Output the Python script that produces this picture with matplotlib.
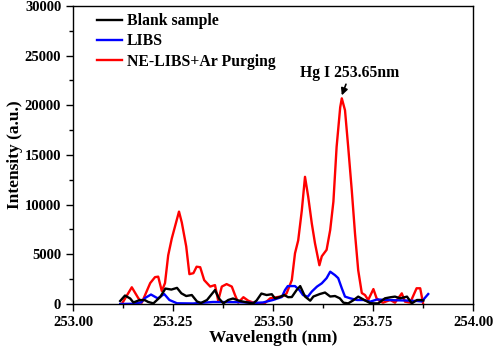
import matplotlib.pyplot as plt
from matplotlib.ticker import MultipleLocator

plt.rcParams['font.family'] = ['Liberation Serif', 'DejaVu Serif']
plt.rcParams['font.weight'] = 'bold'

# Blank sample
blank_x = [253.118, 253.130, 253.143, 253.151, 253.167, 253.180, 253.188, 253.201, 253.218,
           253.231, 253.246, 253.260, 253.271, 253.283, 253.297, 253.310, 253.320, 253.335,
           253.355, 253.365, 253.376, 253.388, 253.400, 253.417, 253.450, 253.459, 253.471,
           253.484, 253.497, 253.505, 253.517, 253.528, 253.538, 253.547, 253.559, 253.568,
           253.580, 253.593, 253.601, 253.617, 253.630, 253.643, 253.655, 253.667, 253.676,
           253.688, 253.700, 253.713, 253.726, 253.743, 253.755, 253.763, 253.780, 253.793,
           253.805, 253.818, 253.835, 253.847, 253.860, 253.868, 253.876]
blank_y = [300, 850, 550, 150, 400, 380, 200, 60, 700, 1550, 1450, 1620, 1070, 800, 900, 250,
           100, 400, 1400, 550, 60, 400, 550, 300, 50, 350, 1050, 900, 980, 560, 700, 900, 680,
           700, 1400, 1800, 750, 330, 750, 1000, 1150, 750, 800, 570, 130, 60, 350, 740, 450, 80,
           60, 60, 570, 670, 740, 570, 740, 60, 400, 400, 350]

# LIBS
libs_x = [253.118, 253.150, 253.170, 253.180, 253.195, 253.212, 253.228, 253.241, 253.260,
          253.300, 253.350, 253.415, 253.450, 253.475, 253.500, 253.522, 253.530, 253.537,
          253.555, 253.566, 253.575, 253.587, 253.597, 253.610, 253.622, 253.634, 253.643,
          253.655, 253.663, 253.672, 253.680, 253.693, 253.710, 253.726, 253.743, 253.760,
          253.800, 253.830, 253.860, 253.872, 253.888]
libs_y = [0, 20, 150, 600, 950, 560, 1000, 400, 70, 50, 200, 180, 100, 150, 400, 700, 1400,
          1800, 1800, 1400, 900, 730, 1250, 1750, 2080, 2600, 3250, 2900, 2600, 1580, 740, 570,
          400, 400, 230, 450, 380, 350, 300, 250, 1000]

# NE-LIBS+Ar Purging
ne_x = [253.122, 253.147, 253.163, 253.172, 253.193, 253.205, 253.213, 253.222, 253.230,
        253.238, 253.247, 253.255, 253.265, 253.272, 253.283, 253.291, 253.301, 253.309,
        253.318, 253.328, 253.343, 253.355, 253.363, 253.372, 253.384, 253.397, 253.405,
        253.413, 253.426, 253.438, 253.451, 253.468, 253.480, 253.493, 253.509, 253.526,
        253.534, 253.547, 253.555, 253.563, 253.572, 253.580, 253.588, 253.597, 253.605,
        253.616, 253.622, 253.634, 253.643, 253.651, 253.659, 253.668, 253.672, 253.680,
        253.688, 253.697, 253.705, 253.713, 253.722, 253.730, 253.738, 253.751, 253.759,
        253.768, 253.775, 253.793, 253.805, 253.822, 253.830, 253.843, 253.859, 253.868,
        253.875]
ne_y = [0, 1680, 600, 130, 2100, 2700, 2750, 1300, 2100, 4900, 6600, 7800, 9300, 8200, 5800,
        3000, 3100, 3750, 3700, 2400, 1750, 1900, 330, 1750, 2000, 1750, 900, 130, 680, 330,
        130, 0, 100, 570, 680, 800, 1070, 2400, 5100, 6400, 9400, 12800, 10800, 8100, 6100,
        3900, 4800, 5450, 7450, 10300, 15800, 19800, 20700, 19500, 15800, 11400, 7100, 3400,
        1100, 900, 400, 1500, 570, 250, 130, 400, 130, 1070, 230, 130, 1580, 1580, 100]

fig = plt.figure(figsize=(5, 3.51), dpi=100, facecolor='white')
ax = fig.add_axes([0.146, 0.134, 0.8, 0.849])

ax.plot(blank_x, blank_y, color='black', linewidth=1.7, label='Blank sample', zorder=3)
ax.plot(libs_x, libs_y, color='#0000ff', linewidth=1.7, label='LIBS', zorder=2)
ax.plot(ne_x, ne_y, color='#ff0000', linewidth=1.7, label='NE-LIBS+Ar Purging', zorder=1)

ax.set_xlim(253.0, 254.0)
ax.set_ylim(0, 30000)
ax.xaxis.set_major_locator(MultipleLocator(0.25))
ax.xaxis.set_minor_locator(MultipleLocator(0.125))
ax.yaxis.set_major_locator(MultipleLocator(5000))
ax.yaxis.set_minor_locator(MultipleLocator(2500))
ax.xaxis.set_major_formatter(plt.FormatStrFormatter('%.2f'))
ax.tick_params(which='major', direction='out', length=5, width=1, labelsize=10.5)
ax.tick_params(which='minor', direction='out', length=3, width=1)
for s in ax.spines.values():
    s.set_linewidth(1.0)

ax.set_xlabel('Wavelength (nm)', fontsize=12.5, fontweight='bold', labelpad=1)
ax.set_ylabel('Intensity (a.u.)', fontsize=12.5, fontweight='bold', labelpad=1)

ax.annotate('Hg I 253.65nm', xy=(253.672, 21000), xytext=(253.6925, 22400),
            ha='center', va='bottom', fontsize=11.3, fontweight='bold',
            arrowprops=dict(arrowstyle='-|>', color='black', lw=1.2,
                            shrinkA=0, shrinkB=0, mutation_scale=10))

leg = ax.legend(loc='upper left', frameon=False, fontsize=11.3, handlelength=1.6,
                handletextpad=0.3, labelspacing=0.27, borderaxespad=0,
                bbox_to_anchor=(0.045, 0.997))

plt.savefig('out.png', dpi=100)
